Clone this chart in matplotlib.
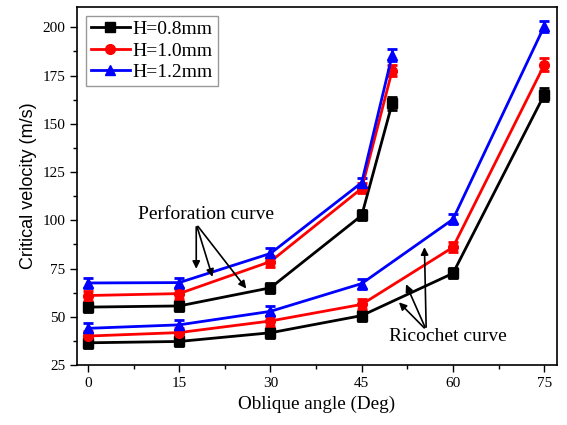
import matplotlib
matplotlib.use("Agg")
import matplotlib.pyplot as plt
from matplotlib.ticker import MultipleLocator

plt.rcParams['font.family'] = ['Liberation Serif', 'DejaVu Serif']

# Perforation curves
perf_x = [0, 15, 30, 45, 50]
perf_08 = [55, 55.6, 65, 102.5, 160.5]
perf_10 = [61, 62, 78.6, 116.5, 177.5]
perf_12 = [67.5, 67.7, 82.8, 119.5, 185.5]
perf_err08 = [2.6, 2.6, 2.6, 2.6, 3.5]
perf_err10 = [2.6, 2.6, 3.0, 2.6, 3.0]
perf_err12 = [2.6, 2.6, 2.6, 2.6, 3.0]

# Ricochet curves
ric_x = [0, 15, 30, 45, 60, 75]
ric_08 = [36.5, 37.2, 41.7, 50.6, 72.5, 165]
ric_10 = [40, 41.8, 47.8, 56.4, 86, 180.5]
ric_12 = [44, 45.8, 52.8, 67.2, 100.5, 200.5]
ric_err08 = [2.6, 2.6, 2.6, 2.6, 2.6, 3.4]
ric_err10 = [2.6, 2.6, 2.6, 2.6, 2.6, 3.4]
ric_err12 = [2.6, 2.6, 2.6, 2.6, 2.6, 3.0]

labels = ['H=0.8mm', 'H=1.0mm', 'H=1.2mm']
colors = ['black', 'red', 'blue']
markers = ['s', 'o', '^']

fig = plt.figure(figsize=(5.67, 4.25), dpi=100)
ax = fig.add_axes([77/567, 1-365/425, (557-77)/567, (365-7)/425])

perf = [(perf_08, perf_err08), (perf_10, perf_err10), (perf_12, perf_err12)]
ric = [(ric_08, ric_err08), (ric_10, ric_err10), (ric_12, ric_err12)]

style = dict(markersize=7, lw=2, capsize=3.5, capthick=2, elinewidth=2)
handles = []
for i in range(3):
    h = ax.errorbar(perf_x, perf[i][0], yerr=perf[i][1], color=colors[i], marker=markers[i],
                    label=labels[i], **style)
    ax.errorbar(ric_x, ric[i][0], yerr=ric[i][1], color=colors[i], marker=markers[i], **style)
    handles.append(h)

ax.set_xlim(-1.8, 77.1)
ax.set_ylim(25, 210.5)
ax.xaxis.set_major_locator(MultipleLocator(15))
ax.xaxis.set_minor_locator(MultipleLocator(7.5))
ax.yaxis.set_major_locator(MultipleLocator(25))
ax.yaxis.set_minor_locator(MultipleLocator(12.5))
ax.tick_params(which='major', direction='out', length=5, width=1, labelsize=11)
ax.tick_params(which='minor', direction='out', length=3, width=1)
for s in ax.spines.values():
    s.set_linewidth(1.2)

ax.set_xlabel('Oblique angle (Deg)', fontsize=13.8)
ax.set_ylabel('Critical velocity (m/s)', fontsize=13,
              family=['Liberation Sans', 'DejaVu Sans'])

leg = ax.legend(handles=[h[0] for h in handles], labels=labels, loc='upper left',
                prop={'size': 14}, frameon=True, fancybox=False, edgecolor='gray',
                handlelength=2.0, borderaxespad=0.45, borderpad=0.25,
                labelspacing=0.2, handletextpad=0.15)
leg.get_frame().set_linewidth(1)

arrow = dict(arrowstyle='-|>', color='black', lw=1.2, mutation_scale=11)
ax.text(19.4, 103, 'Perforation curve', fontsize=14, ha='center', va='center')
for tx, ty in [(17.8, 73.4), (20.6, 69.3), (26.3, 63.5)]:
    ax.annotate('', xy=(tx, ty), xytext=(17.8, 98), arrowprops=arrow)

ax.text(59.2, 39.6, 'Ricochet curve', fontsize=14, ha='center', va='center')
for tx, ty in [(55.3, 87.5), (52.1, 68.2), (50.8, 58.5)]:
    ax.annotate('', xy=(tx, ty), xytext=(55.6, 43.2), arrowprops=arrow)

fig.savefig('out.png', dpi=100)
